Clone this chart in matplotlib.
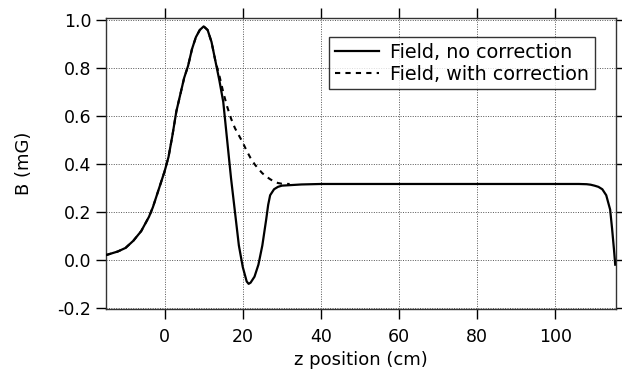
import matplotlib.pyplot as plt

# Field profile
z_solid = [-15, -12, -10, -8, -6, -4, -3, -2, -1, 0, 1, 2, 3, 4, 5, 6, 7, 8, 9, 10,
           11, 12, 13, 14, 15, 16, 17, 18, 19, 20, 21, 21.5, 22, 23, 24, 25, 26, 26.5,
           27, 28, 29, 30, 35, 40, 60, 80, 100, 106, 108, 109, 110, 111, 112, 113,
           114, 114.5, 115, 115.3]
b_solid = [0.02, 0.035, 0.05, 0.08, 0.12, 0.18, 0.22, 0.27, 0.32, 0.37, 0.43, 0.52,
           0.62, 0.69, 0.76, 0.81, 0.88, 0.93, 0.96, 0.975, 0.96, 0.91, 0.83, 0.75,
           0.66, 0.50, 0.34, 0.20, 0.06, -0.03, -0.09, -0.10, -0.095, -0.07, -0.02,
           0.06, 0.17, 0.23, 0.27, 0.295, 0.305, 0.31, 0.315, 0.317, 0.317, 0.317,
           0.317, 0.317, 0.316, 0.314, 0.31, 0.305, 0.295, 0.27, 0.21, 0.13, 0.04,
           -0.02]

z_corr = [-15, -12, -10, -8, -6, -4, -3, -2, -1, 0, 1, 2, 3, 4, 5, 6, 7, 8, 9, 10,
          11, 12, 13, 14, 15, 16, 17, 18, 19, 20, 21, 22, 23, 24, 25, 26, 27, 28, 29,
          30, 32]
b_corr = [0.02, 0.035, 0.05, 0.08, 0.12, 0.18, 0.22, 0.27, 0.32, 0.37, 0.43, 0.52,
          0.62, 0.69, 0.76, 0.81, 0.88, 0.93, 0.96, 0.975, 0.96, 0.91, 0.83, 0.77,
          0.70, 0.64, 0.59, 0.55, 0.52, 0.49, 0.455, 0.425, 0.40, 0.38, 0.362, 0.348,
          0.337, 0.327, 0.321, 0.318, 0.317]

x_ticks = [0, 20, 40, 60, 80, 100]
y_ticks = [-0.2, 0.0, 0.2, 0.4, 0.6, 0.8, 1.0]


def main():
    plt.rcParams["font.family"] = "DejaVu Sans"
    fig = plt.figure(figsize=(6.22, 3.73), dpi=100)
    ax = fig.add_axes([106 / 622, 1 - 309 / 373, 510 / 622, 291 / 373])

    ax.plot(z_corr, b_corr, color="black", linewidth=1.5, linestyle=(0, (2.5, 2.5)),
            label="Field, with correction", zorder=3)
    ax.plot(z_solid, b_solid, color="black", linewidth=1.6,
            label="Field, no correction", zorder=4)

    ax.set_xlim(-15, 115.5)
    ax.set_ylim(-0.205, 1.01)
    ax.set_xticks(x_ticks)
    ax.set_yticks(y_ticks)
    ax.set_yticklabels([f"{v:.1f}" for v in y_ticks])

    ax.grid(True, color="#555555", linestyle=(0, (1, 1.5)), linewidth=0.7)
    ax.tick_params(direction="out", length=7, width=1, labelsize=12.5,
                   top=True, right=True, labeltop=False, labelright=False)
    ax.tick_params(axis="x", pad=7)
    for spine in ax.spines.values():
        spine.set_linewidth(1.0)
        spine.set_color("#333333")

    ax.set_xlabel("z position (cm)", fontsize=13, labelpad=3)
    ax.set_ylabel("B (mG)", fontsize=13, labelpad=18)

    handles, labels = ax.get_legend_handles_labels()
    leg = ax.legend(handles[::-1], labels[::-1], loc="upper left",
                    bbox_to_anchor=(223 / 510, 1 - 19 / 291), fontsize=13.8,
                    frameon=True, fancybox=False, borderpad=0.3,
                    handlelength=2.3, handletextpad=0.6, labelspacing=0.15,
                    borderaxespad=0)
    leg.get_frame().set_edgecolor("black")
    leg.get_frame().set_linewidth(1.0)

    fig.savefig("out.png", dpi=100)


if __name__ == "__main__":
    main()
